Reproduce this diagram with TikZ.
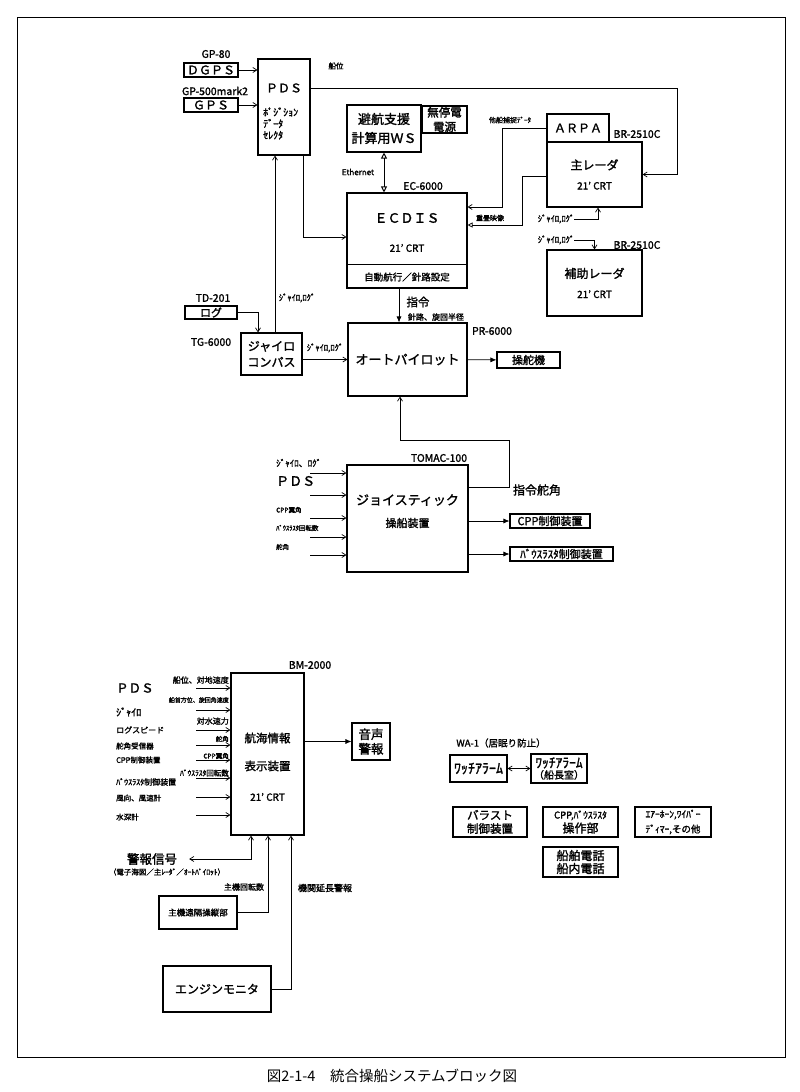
\documentclass[tikz,border=0pt]{standalone}
\usepackage{fontspec}
\setmainfont{Noto Sans CJK JP}[BoldFont={Noto Sans CJK JP},BoldFeatures={FakeBold=1.6}]
\usetikzlibrary{positioning,arrows.meta,calc}
\newcommand\fsz[1]{\fontsize{#1}{#1}\selectfont}

\begin{document}
\begin{tikzpicture}[x=1pt,y=-1pt,
  font=\bfseries\fsz{8},
  blk/.style={draw,line width=1.1pt,align=center,inner sep=0pt},
  lbl/.style={inner sep=0pt,font=\bfseries\fsz{10.5}},
  sml/.style={inner sep=0pt,font=\bfseries\fsz{7.5}},
  txt/.style={inner sep=0pt,align=center},
  ln/.style={line width=0.7pt},
  ar/.style={ln,-{Straight Barb[length=4pt,width=5pt]}},
  dar/.style={ln,{Straight Barb[length=4pt,width=5pt]}-{Straight Barb[length=4pt,width=5pt]}},
  far/.style={ln,-{Latex[length=6pt,width=5pt]}},
  oar/.style={ln,-{Triangle[open,length=5pt,width=5pt]}},
  oda/.style={line width=1pt,{Triangle[open,length=6pt,width=6pt]}-{Triangle[open,length=6pt,width=6pt]}}
]
\useasboundingbox (0,0) rectangle (800,1092);
\draw[line width=0.9pt] (17,17) rectangle (785,1057);
\node[font=\fsz{14.5}] (cap) at (392,1076) {図2-1-4　統合操船システムブロック図};

% position sources
\node[blk,minimum width=54pt,minimum height=14pt,font=\bfseries\fsz{12}] (dgps) at (211,70) {ＤＧＰＳ};
\node[blk,minimum width=54pt,minimum height=14pt,font=\bfseries\fsz{12}] (gps) at (211,105) {ＧＰＳ};
\node[blk,minimum width=52pt,minimum height=96pt] (pds) at (284,107) {};
\node[txt,font=\bfseries\fsz{12}] (pdsname) at (284,88) {ＰＤＳ};
\node[txt,anchor=west,align=left,font=\bfseries\fsz{10}] (pdssub) at (263,123.5) {ﾎﾟｼﾞｼｮﾝ\\[1.5pt]ﾃﾞｰﾀ\\[1.5pt]ｾﾚｸﾀ};
\node[lbl] (gp80) at (216,54) {GP-80};
\node[lbl] (gp500) at (215,91) {GP-500mark2};

% ECDIS and workstation
\node[blk,minimum width=74pt,minimum height=47pt,font=\bfseries\fsz{13}] (ws) at (384,128.5) {避航支援\\[6pt]計算用ＷＳ};
\node[blk,minimum width=45pt,minimum height=27pt,font=\bfseries\fsz{11.5}] (ups) at (444.5,119.5) {無停電\\[3pt]電源};
\node[blk,minimum width=120pt,minimum height=95pt] (ecdis) at (407,240.5) {};
\draw[line width=1.1pt] ([yshift=-72pt]ecdis.north west) -- ([yshift=-72pt]ecdis.north east);
\node[txt,font=\bfseries\fsz{13}] (ecdisname) at (407,218) {ＥＣＤＩＳ};
\node[txt,font=\bfseries\fsz{10}] (ecdiscrt) at (407,248) {21' CRT};
\node[txt,font=\bfseries\fsz{9.5}] (ecdisauto) at (407,277) {自動航行／針路設定};
\node[sml,font=\bfseries\fsz{8}] (ethl) at (358,172) {Ethernet};
\node[lbl] (ec6000) at (423,186) {EC-6000};

% radars
\node[blk,minimum width=62pt,minimum height=28pt,font=\bfseries\fsz{12}] (arpa) at (578,128) {ＡＲＰＡ};
\node[blk,minimum width=95pt,minimum height=65pt,font=\bfseries\fsz{12}] (radar) at (594.5,174.5) {主レーダ\\[8pt]{\fsz{10}21' CRT}};
\node[blk,minimum width=95pt,minimum height=66pt,font=\bfseries\fsz{12}] (subradar) at (594.5,283) {補助レーダ\\[8pt]{\fsz{10}21' CRT}};
\node[lbl] (br1) at (637,134) {BR-2510C};
\node[lbl] (br2) at (637,245) {BR-2510C};
\node[sml,font=\bfseries\fsz{7}] (tsen) at (510,120) {他船捕捉ﾃﾞｰﾀ};
\node[sml,font=\bfseries\fsz{7}] (jyuu) at (490,218) {重畳映像};
\node[sml,font=\bfseries\fsz{8.5}] (gyrolab1) at (556,219) {ｼﾞｬｲﾛ,ﾛｸﾞ};
\node[sml,font=\bfseries\fsz{8.5}] (gyrolab2) at (556,240) {ｼﾞｬｲﾛ,ﾛｸﾞ};
\node[sml] (posl) at (336,66) {船位};

% autopilot
\node[blk,minimum width=119pt,minimum height=73pt,font=\bfseries\fsz{13}] (ap) at (407.5,359.5) {オートパイロット};
\node[blk,minimum width=63pt,minimum height=16pt,font=\bfseries\fsz{11}] (steer) at (528.5,360) {操舵機};
\node[blk,minimum width=61pt,minimum height=42pt,font=\bfseries\fsz{12}] (gyro) at (271.5,354) {ジャイロ\\[4pt]コンパス};
\node[blk,minimum width=52pt,minimum height=13pt,font=\bfseries\fsz{11}] (logbox) at (211,312.5) {ログ};
\node[lbl] (td201) at (213,298) {TD-201};
\node[lbl] (tg6000) at (211,342) {TG-6000};
\node[lbl] (pr6000) at (492,331) {PR-6000};
\node[sml,font=\bfseries\fsz{11.5}] (cmd) at (418,302) {指令};
\node[sml,font=\bfseries\fsz{8}] (cmdsub) at (436,317) {針路、旋回半径};
\node[sml,font=\bfseries\fsz{8.5}] (gyrolab3) at (297,298) {ｼﾞｬｲﾛ,ﾛｸﾞ};
\node[sml,font=\bfseries\fsz{8.5}] (gyrolab4) at (325,348) {ｼﾞｬｲﾛ,ﾛｸﾞ};

% joystick
\node[blk,minimum width=121pt,minimum height=107pt] (joy) at (407.5,518.5) {};
\node[txt,font=\bfseries\fsz{13}] (joyname) at (407.5,500) {ジョイスティック};
\node[txt,font=\bfseries\fsz{11}] (joysub) at (407.5,523) {操船装置};
\node[lbl] (tomac) at (439,458) {TOMAC-100};
\node[sml,font=\bfseries\fsz{12}] (cmdrud) at (537,490) {指令舵角};
\node[blk,minimum width=80pt,minimum height=14pt,font=\bfseries\fsz{11}] (cppctl) at (550,521) {CPP制御装置};
\node[blk,minimum width=103pt,minimum height=14pt,font=\bfseries\fsz{11}] (btctl) at (561.5,554) {ﾊﾞｳｽﾗｽﾀ制御装置};

% navigation display
\node[blk,minimum width=73pt,minimum height=162pt] (bm) at (267.5,754) {};
\node[txt,font=\bfseries\fsz{11.5}] (bmt1) at (267.5,738) {航海情報};
\node[txt,font=\bfseries\fsz{11.5}] (bmt2) at (267.5,766) {表示装置};
\node[txt,font=\bfseries\fsz{10}] (bmt3) at (267.5,797) {21' CRT};
\node[lbl] (bm2000) at (310,665) {BM-2000};
\node[blk,minimum width=38pt,minimum height=37pt,font=\bfseries\fsz{12.5}] (voice) at (371,741.5) {音声\\[2pt]警報};
\node[blk,minimum width=78pt,minimum height=33pt,font=\bfseries\fsz{8.5}] (mrc) at (198,912.5) {主機遠隔操縦部};
\node[blk,minimum width=108pt,minimum height=46pt,font=\bfseries\fsz{12}] (eng) at (217,989) {エンジンモニタ};
\node[sml,font=\bfseries\fsz{12.5}] (alarmsig) at (152,859) {警報信号};
\node[sml,font=\bfseries\fsz{7.5}] (alarmsub) at (167,872) {（電子海図／主ﾚｰﾀﾞ／ｵｰﾄﾊﾟｲﾛｯﾄ）};
\node[sml,font=\bfseries\fsz{8}] (mrev) at (244,887) {主機回転数};
\node[sml,font=\bfseries\fsz{9}] (engal) at (325,888) {機関延長警報};

% stand-alone units
\node[sml,font=\bfseries\fsz{9.5}] (wa1) at (501,743) {WA-1（居眠り防止）};
\node[blk,minimum width=57pt,minimum height=27pt,font=\bfseries\fsz{14}] (wa) at (478.5,768.5) {ﾜｯﾁｱﾗｰﾑ};
\node[blk,minimum width=56pt,minimum height=29pt,font=\bfseries\fsz{10}] (wb) at (559,768.5) {{\fsz{13.5}ﾜｯﾁｱﾗｰﾑ}\\[1pt]（船長室）};
\node[blk,minimum width=74pt,minimum height=30pt,font=\bfseries\fsz{11.5}] (ballast) at (490,822) {バラスト\\[2pt]制御装置};
\node[blk,minimum width=75pt,minimum height=30pt,font=\bfseries\fsz{12}] (cppop) at (580.5,822) {{\fsz{9.5}CPP,ﾊﾞｳｽﾗｽﾀ}\\[2pt]操作部};
\node[blk,minimum width=76pt,minimum height=30pt,font=\bfseries\fsz{9.5}] (misc) at (673,822) {ｴｱｰﾎｰﾝ,ﾜｲﾊﾟｰ\\[4pt]ﾃﾞｨﾏｰ,その他};
\node[blk,minimum width=75pt,minimum height=30pt,font=\bfseries\fsz{12}] (phone) at (580.5,862) {船舶電話\\[1pt]船内電話};

% connectors, upper part
\draw[ar] (dgps) -- (dgps -| pds.west);
\draw[ar] (gps) -- (gps -| pds.west);
\draw[ar] ([yshift=19pt]pds.east) -- ++(367,0) |- (radar.east);
\draw[oda] (ws.south) -- (ws.south |- ecdis.north);
\draw[ar] ([xshift=19pt]pds.south) |- ([yshift=3.5pt]ecdis.west);
\draw[ar] ([xshift=3.5pt]gyro.north) -- ([xshift=3.5pt]gyro.north |- pds.south);
\draw[ar] (logbox.east) -| ([xshift=-13.5pt]gyro.north);
\draw[ar] (gyro.east |- ap.west) -- (ap.west);
\draw[far] (ap) -- (steer);
\draw[far] ([xshift=-8pt]ecdis.south) -- ([xshift=-8.5pt]ap.north);
\draw[ar] (arpa.west) -- ++(-44,0) |- ([yshift=33.5pt]ecdis.east);
\draw[oar] ([yshift=-1.5pt]radar.west) -- ++(-24,0) |- ([yshift=15.5pt]ecdis.east);
\draw[ar] (gyrolab1.east) -| ([xshift=3.5pt]radar.south);
\draw[ar] (gyrolab2.east) -| (subradar.north);

% joystick connectors
\draw[ar] ([yshift=31.5pt]joy.east) -- ++(41,0) -- ++(0,-47) -| ([xshift=-7.5pt]ap.south);
\foreach \y/\ly/\s/\t [count=\i] in {473/463/9/{ｼﾞｬｲﾛ、ﾛｸﾞ}, 495/481/13/{ＰＤＳ}, 518/510/6.5/{CPP翼角}, 537/528/6.5/{ﾊﾞｳｽﾗｽﾀ回転数}, 555/547/6.5/{舵角}} {
  \node[sml,anchor=west,font=\bfseries\fsz{\s}] (jl\i) at (276,\ly) {\t};
  \coordinate (ji\i) at (310,\y);
  \draw[ar] (ji\i) -- (ji\i -| joy.west);
}
\draw[far] (joy.east |- cppctl.west) -- (cppctl.west);
\draw[far] (joy.east |- btctl.west) -- (btctl.west);

% navigation display connectors
\foreach \y [count=\i] in {688,710,730,745,760,778,797,815} {
  \coordinate (bi\i) at (196,\y);
  \draw[ar] (bi\i) -- (bi\i -| bm.west);
}
\foreach \ly/\s/\t [count=\i] in {680/8/{船位、対地速度}, 700/6/{船首方位、旋回角速度}, 721/8/{対水速力}, 739/6.5/{舵角}, 756/6.5/{CPP翼角}, 773/7.5/{ﾊﾞｳｽﾗｽﾀ回転数}} {
  \node[sml,anchor=east,font=\bfseries\fsz{\s}] (br\i) at (229,\ly) {\t};
}
\foreach \ly/\s/\t [count=\i] in {688/12.5/{ＰＤＳ}, 712/10/{ｼﾞｬｲﾛ}, 730/8/{ログスピード}, 746/7.5/{舵角受信器}, 760/7.5/{CPP制御装置}, 782/8/{ﾊﾞｳｽﾗｽﾀ制御装置}, 798/7.5/{風向、風速計}, 817/7.5/{水深計}} {
  \node[sml,anchor=west,font=\bfseries\fsz{\s}] (bl\i) at (116,\ly) {\t};
}
\draw[far] (bm.east |- voice.west) -- (voice.west);
\draw[dar] ([xshift=-16.5pt]bm.south) |- ([xshift=12pt]alarmsig.east);
\draw[ar] (mrc.east) -| ([xshift=0.5pt]bm.south);
\draw[ar] (eng.east) -| ([xshift=23.5pt]bm.south);
\draw[dar] (wa) -- (wb);
\end{tikzpicture}
\end{document}
